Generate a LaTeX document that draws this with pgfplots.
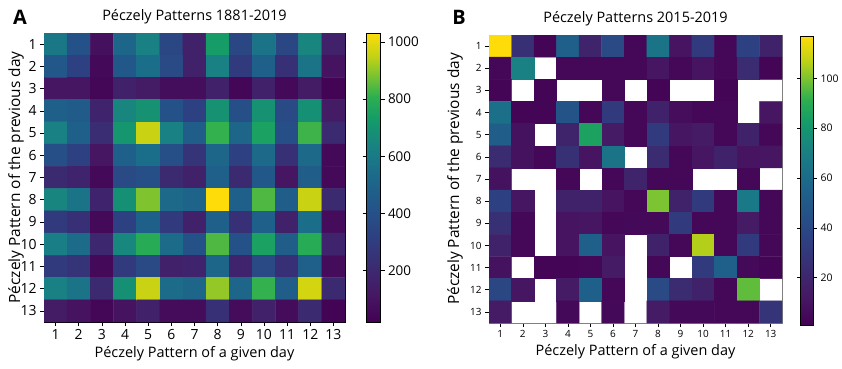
\documentclass[border=0pt]{standalone}
\usepackage{pgfplots}
\pgfplotsset{compat=1.18}
\usepackage{pgfplotstable}
\usepackage{fontspec}
\setmainfont{Open Sans}

% Panel A: 1881-2019, rows = previous day (y), columns = given day (x)
\pgfplotstableread[row sep=\\]{
x y c\\
1 1 593\\ 2 1 410\\ 3 1 86\\ 4 1 511\\ 5 1 627\\ 6 1 352\\ 7 1 164\\ 8 1 736\\ 9 1 352\\ 10 1 570\\ 11 1 352\\ 12 1 644\\ 13 1 164\\
1 2 438\\ 2 2 323\\ 3 2 52\\ 4 2 438\\ 5 2 548\\ 6 2 366\\ 7 2 164\\ 8 2 627\\ 9 2 289\\ 10 2 482\\ 11 2 239\\ 12 2 570\\ 13 2 97\\
1 3 108\\ 2 3 108\\ 3 3 41\\ 4 3 164\\ 5 3 134\\ 6 3 75\\ 7 3 75\\ 8 3 164\\ 9 3 41\\ 10 3 164\\ 11 3 52\\ 12 3 134\\ 13 3 30\\
1 4 482\\ 2 4 454\\ 3 4 178\\ 4 4 644\\ 5 4 695\\ 6 4 410\\ 7 4 323\\ 8 4 695\\ 9 4 395\\ 10 4 695\\ 11 4 366\\ 12 4 686\\ 13 4 134\\
1 5 627\\ 2 5 482\\ 3 5 222\\ 4 5 711\\ 5 5 960\\ 6 5 627\\ 7 5 468\\ 8 5 815\\ 9 5 511\\ 10 5 752\\ 11 5 395\\ 12 5 825\\ 13 5 207\\
1 6 395\\ 2 6 323\\ 3 6 108\\ 4 6 482\\ 5 6 548\\ 6 6 395\\ 7 6 255\\ 8 6 511\\ 9 6 323\\ 10 6 526\\ 11 6 239\\ 12 6 526\\ 13 6 52\\
1 7 207\\ 2 7 178\\ 3 7 52\\ 4 7 366\\ 5 7 395\\ 6 7 207\\ 7 7 164\\ 8 7 482\\ 9 7 207\\ 10 7 438\\ 11 7 108\\ 12 7 468\\ 13 7 52\\
1 8 644\\ 2 8 570\\ 3 8 178\\ 4 8 686\\ 5 8 887\\ 6 8 526\\ 7 8 496\\ 8 8 1032\\ 9 8 482\\ 10 8 841\\ 11 8 468\\ 12 8 960\\ 13 8 207\\
1 9 289\\ 2 9 239\\ 3 9 52\\ 4 9 323\\ 5 9 482\\ 6 9 289\\ 7 9 164\\ 8 9 482\\ 9 9 239\\ 10 9 482\\ 11 9 164\\ 12 9 548\\ 13 9 64\\
1 10 616\\ 2 10 537\\ 3 10 192\\ 4 10 652\\ 5 10 793\\ 6 10 537\\ 7 10 410\\ 8 10 841\\ 9 10 410\\ 10 10 752\\ 11 10 468\\ 12 10 793\\ 13 10 178\\
1 11 289\\ 2 11 255\\ 3 11 52\\ 4 11 289\\ 5 11 366\\ 6 11 164\\ 7 11 178\\ 8 11 511\\ 9 11 178\\ 10 11 366\\ 11 11 239\\ 12 11 482\\ 13 11 64\\
1 12 627\\ 2 12 570\\ 3 12 207\\ 4 12 686\\ 5 12 960\\ 6 12 537\\ 7 12 511\\ 8 12 906\\ 9 12 511\\ 10 12 815\\ 11 12 468\\ 12 12 974\\ 13 12 207\\
1 13 134\\ 2 13 97\\ 3 13 41\\ 4 13 97\\ 5 13 164\\ 6 13 64\\ 7 13 64\\ 8 13 239\\ 9 13 64\\ 10 13 164\\ 11 13 64\\ 12 13 207\\ 13 13 30\\
}\tabA

% Panel B: 2015-2019 (nan = no occurrence, left white)
\pgfplotstableread[row sep=\\]{
x y c\\
1 1 117\\ 2 1 26\\ 3 1 3\\ 4 1 54\\ 5 1 19\\ 6 1 41\\ 7 1 4\\ 8 1 64\\ 9 1 10\\ 10 1 32\\ 11 1 4\\ 12 1 36\\ 13 1 18\\
1 2 4\\ 2 2 71\\ 3 2 nan\\ 4 2 4\\ 5 2 4\\ 6 2 4\\ 7 2 4\\ 8 2 11\\ 9 2 4\\ 10 2 10\\ 11 2 4\\ 12 2 23\\ 13 2 3\\
1 3 3\\ 2 3 nan\\ 3 3 3\\ 4 3 nan\\ 5 3 nan\\ 6 3 4\\ 7 3 nan\\ 8 3 3\\ 9 3 nan\\ 10 3 nan\\ 11 3 3\\ 12 3 nan\\ 13 3 nan\\
1 4 62\\ 2 4 3\\ 3 4 3\\ 4 4 46\\ 5 4 4\\ 6 4 32\\ 7 4 4\\ 8 4 18\\ 9 4 7\\ 10 4 4\\ 11 4 4\\ 12 4 nan\\ 13 4 11\\
1 5 52\\ 2 5 9\\ 3 5 nan\\ 4 5 19\\ 5 5 85\\ 6 5 14\\ 7 5 4\\ 8 5 32\\ 9 5 11\\ 10 5 14\\ 11 5 4\\ 12 5 18\\ 13 5 4\\
1 6 23\\ 2 6 9\\ 3 6 4\\ 4 6 26\\ 5 6 10\\ 6 6 64\\ 7 6 nan\\ 8 6 23\\ 9 6 4\\ 10 6 11\\ 11 6 18\\ 12 6 10\\ 13 6 11\\
1 7 9\\ 2 7 nan\\ 3 7 nan\\ 4 7 4\\ 5 7 nan\\ 6 7 4\\ 7 7 19\\ 8 7 4\\ 9 7 4\\ 10 7 nan\\ 11 7 nan\\ 12 7 4\\ 13 7 nan\\
1 8 36\\ 2 8 11\\ 3 8 nan\\ 4 8 18\\ 5 8 18\\ 6 8 10\\ 7 8 4\\ 8 8 100\\ 9 8 18\\ 10 8 32\\ 11 8 4\\ 12 8 67\\ 13 8 4\\
1 9 26\\ 2 9 4\\ 3 9 nan\\ 4 9 10\\ 5 9 11\\ 6 9 4\\ 7 9 5\\ 8 9 5\\ 9 9 32\\ 10 9 4\\ 11 9 4\\ 12 9 14\\ 13 9 4\\
1 10 18\\ 2 10 4\\ 3 10 nan\\ 4 10 10\\ 5 10 54\\ 6 10 10\\ 7 10 nan\\ 8 10 18\\ 9 10 4\\ 10 10 106\\ 11 10 4\\ 12 10 32\\ 13 10 4\\
1 11 9\\ 2 11 nan\\ 3 11 3\\ 4 11 3\\ 5 11 4\\ 6 11 14\\ 7 11 nan\\ 8 11 4\\ 9 11 nan\\ 10 11 32\\ 11 11 54\\ 12 11 5\\ 13 11 3\\
1 12 39\\ 2 12 11\\ 3 12 nan\\ 4 12 14\\ 5 12 54\\ 6 12 4\\ 7 12 nan\\ 8 12 41\\ 9 12 23\\ 10 12 18\\ 11 12 4\\ 12 12 97\\ 13 12 nan\\
1 13 14\\ 2 13 nan\\ 3 13 nan\\ 4 13 5\\ 5 13 nan\\ 6 13 5\\ 7 13 nan\\ 8 13 14\\ 9 13 5\\ 10 13 5\\ 11 13 4\\ 12 13 4\\ 13 13 28\\
}\tabB

\pgfplotsset{
  colormap={refviridis}{
    rgb255(0cm)=(68,1,84) rgb255(10cm)=(70,25,100) rgb255(20cm)=(58,45,115)
    rgb255(30cm)=(45,65,130) rgb255(40cm)=(35,85,137) rgb255(50cm)=(28,105,138)
    rgb255(60cm)=(25,128,132) rgb255(70cm)=(20,155,105) rgb255(78cm)=(45,175,80)
    rgb255(85cm)=(120,195,50) rgb255(92cm)=(195,210,20) rgb255(100cm)=(253,220,10)
  },
  heat/.style={
    scale only axis,
    y dir=reverse,
    xmin=0.5, xmax=13.5, ymin=0.5, ymax=13.5,
    xtick={1,...,13}, ytick={1,...,13},
    tick align=outside, tick pos=left,
    major tick length=4bp,
    colormap name=refviridis,
    unbounded coords=jump,
    /pgf/number format/assume math mode=true,
    axis line style={line width=0.6pt},
    every tick/.style={black, line width=0.6pt},
    xlabel={Péczely Pattern of a given day},
    ylabel={Péczely Pattern of the previous day},
    xlabel style={font=\fontsize{14.5}{16}\selectfont},
    ylabel style={font=\fontsize{15.5}{17}\selectfont, anchor=center},
    title style={font=\fontsize{14.5}{17}\selectfont},
    colorbar,
  }
}

\begin{document}
\begin{tikzpicture}
\useasboundingbox (0,0) rectangle (842bp,369bp);

\begin{axis}[heat,
  at={(44bp,47bp)}, anchor=south west,
  width=301bp, height=289bp,
  title={Péczely Patterns 1881-2019},
  ticklabel style={font=\fontsize{14}{14}\selectfont},
  ylabel style={at={(axis description cs:-0.093,0.5)}},
  point meta min=19, point meta max=1032,
  colorbar style={
    at={(parent axis.north east)}, anchor=north west, xshift=13bp,
    scale only axis, width=14bp, height=289bp,
    ytick={200,400,600,800,1000},
    tick align=outside, major tick length=4bp,
    yticklabel style={font=\fontsize{13.5}{13.5}\selectfont},
    /pgf/number format/assume math mode=true,
    /pgf/number format/1000 sep={},
  },
]
\addplot[matrix plot*, mesh/cols=13, point meta=explicit] table[meta=c] {\tabA};
\end{axis}

\begin{axis}[heat,
  at={(489bp,46bp)}, anchor=south west,
  width=293bp, height=288bp,
  title={Péczely Patterns 2015-2019},
  ticklabel style={font=\fontsize{10}{10}\selectfont},
  ylabel style={at={(axis description cs:-0.116,0.5)}},
  axis line style={gray},
  point meta min=1, point meta max=117,
  colorbar style={
    at={(parent axis.north east)}, anchor=north west, xshift=10bp, yshift=-1bp,
    scale only axis, width=13bp, height=289bp,
    ytick={20,40,60,80,100},
    tick align=outside, major tick length=3.5bp,
    yticklabel style={font=\fontsize{10.5}{10.5}\selectfont},
    /pgf/number format/assume math mode=true,
  },
]
\addplot[matrix plot*, mesh/cols=13, point meta=explicit] table[meta=c] {\tabB};
\end{axis}

\node[font=\bfseries\fontsize{20}{24}\selectfont] at (20bp,352bp) {A};
\node[font=\bfseries\fontsize{20}{24}\selectfont] at (459bp,352bp) {B};
\end{tikzpicture}
\end{document}
